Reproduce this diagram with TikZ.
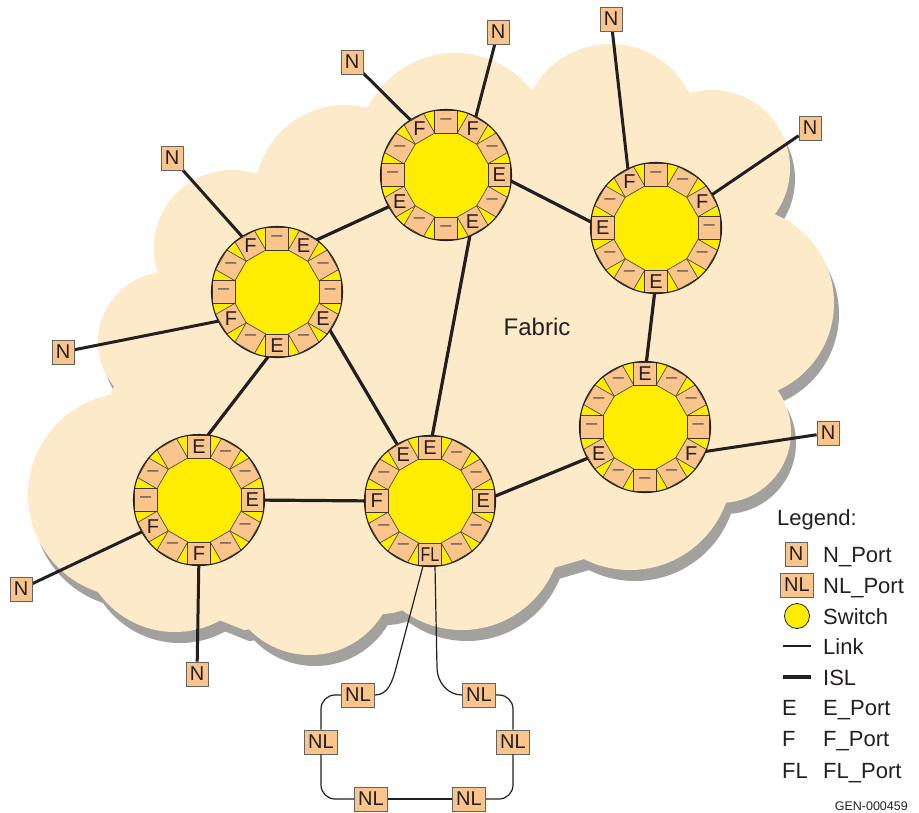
\documentclass[tikz,border=0pt]{standalone}
\usepackage{fontspec}
\setmainfont{Liberation Sans}
\usetikzlibrary{calc}
\definecolor{cloudc}{RGB}{253,234,201}
\definecolor{shadowc}{RGB}{163,161,157}
\definecolor{portc}{RGB}{250,197,140}
\definecolor{swyel}{RGB}{255,237,0}
\definecolor{inkc}{RGB}{35,31,32}
\definecolor{dashc}{RGB}{95,85,75}
\pgfdeclarelayer{cloudlayer}
\pgfdeclarelayer{linelayer}
\pgfsetlayers{cloudlayer,linelayer,main}
\newcommand{\D}{\textcolor{dashc}{\textendash}}
\newcommand{\FLtxt}{\scalebox{0.8}[1]{FL}}
\tikzset{
 portbox/.style={draw=inkc!85!portc, line width=0.6pt, fill=portc, minimum size=22.5pt, inner sep=0pt, outer sep=0pt},
 portlab/.style={inner sep=0pt, text=inkc, font=\fontsize{20}{20}\selectfont},
 nbox/.style={draw=inkc!70, line width=0.8pt, fill=portc, minimum width=22pt, minimum height=24pt, inner sep=0pt, text=inkc, font=\fontsize{20}{20}\selectfont},
 nlbox/.style={nbox, minimum width=33pt},
 isl/.style={draw=inkc, line width=3.2pt},
 nlink/.style={draw=inkc, line width=3pt},
 thinlink/.style={draw=inkc, line width=1.2pt},
 legtext/.style={anchor=base west, inner sep=0pt, text=inkc, font=\fontsize{22}{22}\selectfont},
 cloudpoly/.style={insert path={(265,-180) -- (370,-110) -- (543,-87) -- (688,-90) -- (757,-208) -- (773,-388) -- (707,-523) -- (557,-567) -- (393,-613) -- (244,-630) -- (95,-570) -- (108,-400) -- (160,-280) -- cycle}},
 cloudcirc/.style={insert path={(232,-248) circle[radius=78] (168,-342) circle[radius=70] (130,-495) circle[radius=102] (175,-538) circle[radius=94] (310,-570) circle[radius=85] (462,-530) circle[radius=100] (630,-468) circle[radius=102] (720,-432) circle[radius=71] (738,-303) circle[radius=96] (712,-168) circle[radius=78] (610,-132) circle[radius=88] (455,-150) circle[radius=97] (345,-195) circle[radius=90]}},
}
\newcommand{\drawswitch}[4]{%
 \fill[swyel] (#2,-#3) circle[radius=65.5];
 \foreach \lab [count=\i from 0] in {#4}{%
   \pgfmathsetmacro{\ang}{30*\i}%
   \node[portbox, rotate=\ang] (#1-\i) at ($(#2,-#3)+(\ang:53.25)$) {};
   \node[portlab] at (#1-\i.center) {\lab};
 }
 \draw[inkc, line width=1.1pt] (#2,-#3) circle[radius=65.5];
}
\begin{document}
\begin{tikzpicture}[x=1pt,y=1pt]
\useasboundingbox (0,0) rectangle (919,-812);
% cloud with shadow
\begin{pgfonlayer}{cloudlayer}
\fill[white] (0,0) rectangle (919,-812);
\foreach \dx/\dy/\col in {5/-11/shadowc, 0/0/cloudc}{
 \begin{scope}[shift={(\dx,\dy)}]
  \fill[\col, cloudpoly];
  \fill[\col, cloudcirc];
 \end{scope}
}
\end{pgfonlayer}
% switches
\drawswitch{swA}{446}{175}{E,\D,F,\D,F,\D,\D,E,\D,\D,E,\D}
\drawswitch{swB}{277}{292}{\D,\D,E,\D,F,\D,\D,F,\D,E,\D,E}
\drawswitch{swC}{656}{228}{\D,F,\D,\D,F,\D,E,\D,\D,E,\D,\D}
\drawswitch{swD}{645}{427}{\D,\D,\D,E,\D,\D,\D,E,\D,\D,\D,F}
\drawswitch{swE}{199}{500}{E,\D,\D,E,{},\D,\D,F,\D,F,\D,\D}
\drawswitch{swF}{430}{501}{E,\D,\D,E,E,\D,F,\D,\D,\FLtxt,\D,\D}
% N ports
\node[nbox] (n1) at (352,-62) {N};
\node[nbox] (n2) at (498,-32) {N};
\node[nbox] (n3) at (611,-19) {N};
\node[nbox] (n4) at (810,-128) {N};
\node[nbox] (n5) at (172,-158) {N};
\node[nbox] (n6) at (63,-352) {N};
\node[nbox] (n7) at (828,-433) {N};
\node[nbox] (n8) at (21,-589) {N};
\node[nbox] (n9) at (197,-674) {N};
% NL ports
\node[nlbox] (nl1) at (358,-695) {NL};
\node[nlbox] (nl2) at (479,-695) {NL};
\node[nlbox] (nl3) at (321,-742) {NL};
\node[nlbox] (nl4) at (513,-742) {NL};
\node[nlbox] (nl5) at (371,-799) {NL};
\node[nlbox] (nl6) at (469,-799) {NL};
\coordinate (fla) at (423,-566);
\coordinate (flb) at (435,-566);
% connectors
\begin{pgfonlayer}{linelayer}
\draw[isl] (swA-0) -- (swC-6);
\draw[isl] (swA-7) -- (swB-2);
\draw[isl] (swA-10) -- (swF-3);
\draw[isl] (swB-11) -- (swF-4);
\draw[isl] (swB-9) -- (swE-3);
\draw[isl] (swC-9) -- (swD-3);
\draw[isl] (swD-7) -- (swF-0);
\draw[isl] (swE-0) -- (swF-6);
\draw[nlink] (n1) -- (swA-4);
\draw[nlink] (n2) -- (swA-2);
\draw[nlink] (n3) -- (swC-4);
\draw[nlink] (n4) -- (swC-1);
\draw[nlink] (n5) -- (swB-4);
\draw[nlink] (n6) -- (swB-7);
\draw[nlink] (n7) -- (swD-11);
\draw[nlink] (n8) -- (swE-7);
\draw[nlink] (n9) -- (swE-9);
\end{pgfonlayer}
\draw[thinlink] (fla) -- (396,-668) to[out=-105,in=0] (nl1.east);
\draw[thinlink] (flb) -- (437,-668) to[out=-89,in=180] (nl2.west);
\draw[thinlink, rounded corners=14] (nl1.west) -| (nl3.north);
\draw[thinlink, rounded corners=14] (nl3.south) |- (nl5.west);
\draw[thinlink] (nl5.east) -- (nl6.west);
\draw[thinlink, rounded corners=14] (nl6.east) -| (nl4.south);
\draw[thinlink, rounded corners=14] (nl4.north) |- (nl2.east);
% fabric label
\node[text=inkc, font=\fontsize{24}{24}\selectfont] (fab) at (537,-327) {Fabric};
% legend
\node[legtext] (lg) at (777,-525) {Legend:};
\node[nbox] (lgn) at (796,-554) {N};
\node[legtext] (lgnt) at (823,-562) {N\_Port};
\node[nlbox] (lgnl) at (797,-585) {NL};
\node[legtext] (lgnlt) at (823,-593) {NL\_Port};
\node[circle, draw=inkc, fill=swyel, minimum size=25pt, line width=0.8pt, inner sep=0pt] (lgsw) at (797,-616) {};
\node[legtext] (lgswt) at (823,-624) {Switch};
\coordinate (lk1) at (783,-646);
\coordinate (lk2) at (811,-646);
\draw[thinlink] (lk1) -- (lk2);
\node[legtext] (lglkt) at (823,-654) {Link};
\coordinate (is1) at (783,-677);
\coordinate (is2) at (811,-677);
\draw[draw=inkc, line width=4pt] (is1) -- (is2);
\node[legtext] (lgist) at (823,-685) {ISL};
\node[legtext] (lge) at (782,-715) {E};
\node[legtext] (lget) at (823,-715) {E\_Port};
\node[legtext] (lgf) at (782,-746) {F};
\node[legtext] (lgft) at (823,-746) {F\_Port};
\node[legtext] (lgfl) at (782,-778) {FL};
\node[legtext] (lgflt) at (823,-778) {FL\_Port};
\node[anchor=base east, inner sep=0pt, text=inkc, font=\fontsize{12.5}{12.5}\selectfont] (gen) at (908,-810) {GEN-000459};
\end{tikzpicture}
\end{document}
